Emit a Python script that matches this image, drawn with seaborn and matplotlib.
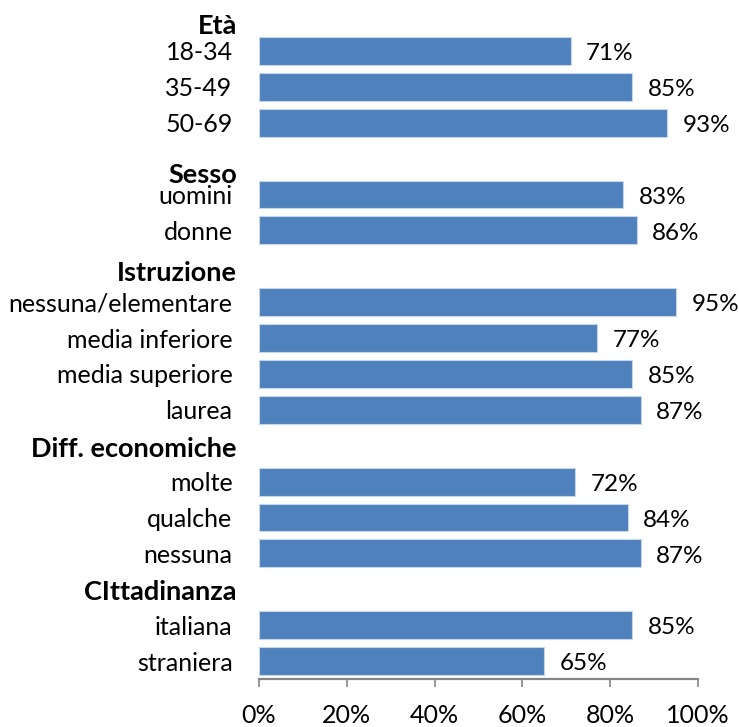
import matplotlib
matplotlib.use("Agg")
import matplotlib.pyplot as plt
import seaborn as sns
import pandas as pd

# Groups and their categories / percentages
groups = ["Età", "Sesso", "Istruzione", "Diff. economiche", "CIttadinanza"]

eta_labels = ["18-34", "35-49", "50-69"]
eta_values = [71, 85, 93]

sesso_labels = ["uomini", "donne"]
sesso_values = [83, 86]

istruzione_labels = ["nessuna/elementare", "media inferiore", "media superiore", "laurea"]
istruzione_values = [95, 77, 85, 87]

economia_labels = ["molte", "qualche", "nessuna"]
economia_values = [72, 84, 87]

cittadinanza_labels = ["italiana", "straniera"]
cittadinanza_values = [85, 65]

x_ticks = [0, 20, 40, 60, 80, 100]

group_labels = [eta_labels, sesso_labels, istruzione_labels, economia_labels, cittadinanza_labels]
group_values = [eta_values, sesso_values, istruzione_values, economia_values, cittadinanza_values]

# Build the row order: one blank row separates consecutive groups
order, tick_text, rows = [], [], []
header_rows = []
for g, (labs, vals) in enumerate(zip(group_labels, group_values)):
    if g > 0:
        key = f"_gap{g}"
        order.append(key)
        tick_text.append("")
        header_rows.append(len(order) - 1)
    else:
        header_rows.append(-1)
    for lab, v in zip(labs, vals):
        key = f"{groups[g]}|{lab}"
        order.append(key)
        tick_text.append(lab)
        rows.append({"row": key, "value": v})

df = pd.DataFrame(rows)

sns.set_theme(style="white")
plt.rcParams["font.family"] = ["Lato", "DejaVu Sans"]

fig = plt.figure(figsize=(7.39, 7.27), dpi=100)
ax = fig.add_axes([259 / 739, 1 - 679 / 727, 439 / 739, (679 - 33) / 727])

bar_color = "#4F81BD"
sns.barplot(data=df, x="value", y="row", order=order, orient="h",
            color=bar_color, saturation=1, width=0.78,
            edgecolor="#C5D5EA", linewidth=0.8, ax=ax, errorbar=None)

ax.set_xlim(0, 100)
ax.set_ylim(len(order) - 0.5, -0.5)
ax.set_xlabel("")
ax.set_ylabel("")

FS = 18

# Category labels on the left
ax.set_yticks(range(len(order)))
ax.set_yticklabels(tick_text, fontsize=FS, color="black")
ax.tick_params(axis="y", length=0, pad=19)

# Percentage axis at the bottom
ax.set_xticks(x_ticks)
ax.set_xticklabels([f"{t}%" for t in x_ticks], fontsize=FS, color="black")
ax.tick_params(axis="x", direction="out", length=6, width=1.2, color="#868686",
               pad=12, bottom=True)

for side in ["left", "right", "top"]:
    ax.spines[side].set_visible(False)
ax.spines["bottom"].set_color("#868686")
ax.spines["bottom"].set_linewidth(1.6)

# Value labels next to each bar
for _, r in df.iterrows():
    yi = order.index(r["row"])
    ax.annotate(f"{r['value']:.0f}%", xy=(r["value"], yi), xytext=(11, -2),
                textcoords="offset points", ha="left", va="center",
                fontsize=17.5, color="black", annotation_clip=False)

# Bold group headers
header_offsets = [-0.7, 0.45, 0.2, 0.08, 0.08]
for g, name in enumerate(groups):
    base = header_rows[g] if header_rows[g] >= 0 else 0
    yy = base + header_offsets[g]
    ax.annotate(name, xy=(0, yy), xycoords=("axes fraction", "data"),
                xytext=(-16, 0), textcoords="offset points",
                ha="right", va="center", fontsize=19.5, fontweight="bold",
                color="black", annotation_clip=False)

fig.savefig("out.png", dpi=100)
